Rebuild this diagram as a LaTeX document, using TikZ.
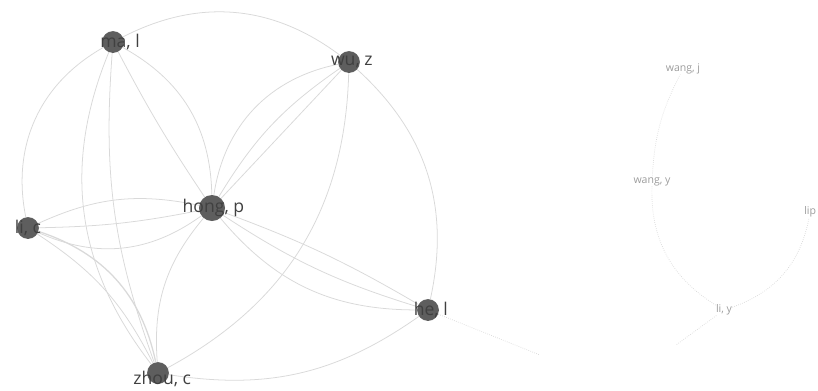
\documentclass[tikz,border=0pt]{standalone}
\usepackage{fontspec}
\setmainfont{Open Sans}
\usetikzlibrary{backgrounds}
\definecolor{nodegray}{HTML}{5E5E5E}
\definecolor{linkgray}{HTML}{D9D9D9}
\definecolor{textgray}{HTML}{404040}
\definecolor{faintgray}{HTML}{9C9C9C}

\begin{document}
\begin{tikzpicture}[x=0.025cm,y=0.025cm,
  author/.style={circle,fill=nodegray,inner sep=0pt,minimum size=15.5pt},
  bigauthor/.style={author,minimum size=18.5pt},
  authorlabel/.style={text=textgray,font=\fontsize{12.5}{13}\selectfont,inner sep=0pt},
  smalllabel/.style={text=faintgray,font=\fontsize{7.5}{8}\selectfont,inner sep=0pt},
  link/.style={linkgray,line width=0.55pt},
  faintlink/.style={gray!30,line width=0.5pt,densely dotted}]
  \useasboundingbox (0,0) rectangle (818,-390);
  % main cluster
  \node[author,label={[authorlabel,xshift=5pt]center:ma, l}] (mal) at (113,-42) {};
  \node[author,label={[authorlabel,xshift=2pt]center:wu, z}] (wuz) at (349,-62) {};
  \node[bigauthor,label={[authorlabel,xshift=1pt]center:hong, p}] (hongp) at (212,-208) {};
  \node[author,label={[authorlabel]center:li, c}] (lic) at (28,-228) {};
  \node[author,label={[authorlabel,xshift=2pt]center:he, l}] (hel) at (428,-310) {};
  \node[author,label={[authorlabel,xshift=3pt,yshift=-4pt]center:zhou, c}] (zhouc) at (158,-373) {};
  \coordinate (helout) at (540,-355);
  % second cluster
  \node[smalllabel] (wangj) at (683,-69) {wang, j};
  \node[smalllabel] (wangy) at (652,-182) {wang, y};
  \node[smalllabel] (liy) at (724,-310) {li, y};
  \node[smalllabel,anchor=west] (lip) at (804,-212) {lip};
  \coordinate (liyout) at (676,-345);
  \begin{scope}[on background layer]
    \draw[link] (mal) to[bend left=32] (wuz);
    \draw[link] (mal) to[bend right=36] (lic);
    \draw[link] (mal) to[bend left=30] (hongp);
    \draw[link] (mal) to[bend right=3] (hongp);
    \draw[link] (mal) to[bend right=30] (zhouc);
    \draw[link] (mal) to[bend right=12] (zhouc);
    \draw[link] (wuz) to[bend right=35] (hongp);
    \draw[link] (wuz) to[bend right=12] (hongp);
    \draw[link] (wuz) to (hongp);
    \draw[link] (wuz) to[bend left=30] (zhouc);
    \draw[link] (wuz) to[bend left=30] (hel);
    \draw[link] (hongp) to[bend right=18] (lic);
    \draw[link] (hongp) to[bend left=5] (lic);
    \draw[link] (hongp) to[bend left=30] (lic);
    \draw[link] (hongp) to[bend right=22] (zhouc);
    \draw[link] (hongp) to[bend left=5] (hel);
    \draw[link] (hongp) to[bend right=8] (hel);
    \draw[link] (hongp) to[bend right=25] (hel);
    \draw[link,line width=0.9pt] (lic) to[bend left=30] (zhouc);
    \draw[link] (lic) to[bend left=15] (zhouc);
    \draw[link] (zhouc) to[bend right=22] (hel);
    \draw[faintlink] (hel) -- (helout);
    \draw[faintlink] (wangy) to[bend left=12] (wangj);
    \draw[faintlink] (wangy) to[bend right=30] (liy);
    \draw[faintlink] (liy) to[bend right=30] (lip);
    \draw[faintlink] (liy) -- (liyout);
  \end{scope}
\end{tikzpicture}
\end{document}
